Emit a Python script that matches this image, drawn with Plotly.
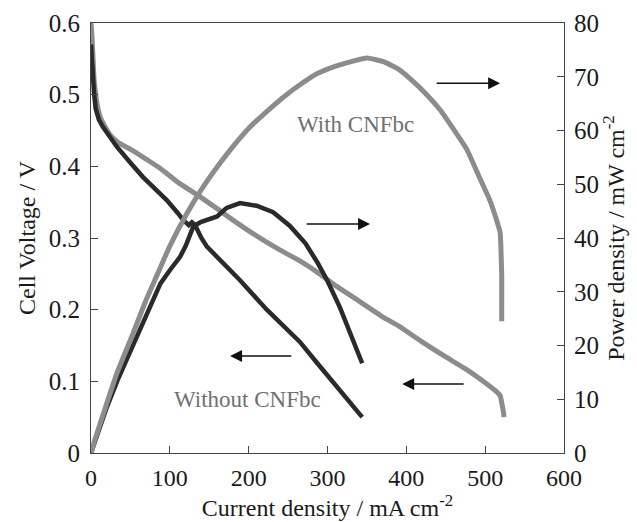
import plotly.graph_objects as go

# With CNFbc - cell voltage
with_v_i = [0, 1, 2, 3, 4, 6, 8, 12, 18, 25, 35, 53, 70, 88, 110, 139, 160, 180, 210, 240,
            265, 290, 307, 340, 370, 392, 420, 450, 477, 500, 515, 519, 521, 523, 524]
with_v = [0.600, 0.585, 0.565, 0.54, 0.52, 0.50, 0.485, 0.468, 0.455, 0.443, 0.433, 0.422,
          0.41, 0.397, 0.378, 0.357, 0.341, 0.325, 0.303, 0.283, 0.268, 0.25, 0.236, 0.212,
          0.19, 0.176, 0.155, 0.134, 0.116, 0.098, 0.085, 0.08, 0.07, 0.058, 0.05]

# With CNFbc - power density
with_p_i = [0, 5, 15, 33, 53.5, 70, 83.5, 100, 121.8, 140, 160, 180, 202, 225, 244, 265, 287,
            307, 330, 350, 371, 390, 405, 425, 443, 460, 477, 492, 506, 513, 519, 520, 521, 521, 521]
with_p = [0, 2.5, 7, 14.9, 22.3, 28.5, 33, 38.5, 44.6, 49, 53.2, 57, 60.7, 63.8, 66.2, 68.5,
          70.6, 71.8, 72.8, 73.5, 72.8, 71.4, 69.6, 66.8, 63.8, 60.2, 56.4, 51.5, 47, 44, 41,
          38, 33, 28, 24.5]

# Without CNFbc - cell voltage
wo_v_i = [0, 2, 4, 6, 10, 15, 25, 33, 50, 66, 80, 96, 110, 117, 124, 128, 132, 140, 147, 164,
          189, 223, 265, 285, 307, 325, 344]
wo_v = [0.57, 0.53, 0.50, 0.48, 0.465, 0.455, 0.44, 0.427, 0.405, 0.385, 0.37, 0.353, 0.335,
        0.325, 0.318, 0.322, 0.318, 0.30, 0.288, 0.269, 0.241, 0.20, 0.155, 0.128, 0.098, 0.075, 0.05]

# Without CNFbc - power density
wo_p_i = [0, 10, 20, 35, 50, 60, 75, 88, 100, 113, 120, 125, 130, 140, 160, 172, 189, 210, 231,
          252, 272, 287, 300, 316, 330, 344]
wo_p = [0, 4.5, 8.5, 14, 19, 22.5, 27.5, 31.5, 34, 36.5, 38.5, 40.5, 42.2, 43, 44, 45.6, 46.5,
        46, 44.8, 42.3, 39, 35.5, 32, 27, 22, 16.7]

x_ticks = [0, 100, 200, 300, 400, 500, 600]
v_ticks = [0, 0.1, 0.2, 0.3, 0.4, 0.5, 0.6]
p_ticks = [0, 10, 20, 30, 40, 50, 60, 70, 80]

GRAY = "#8c8c8c"
DARK = "#2a2a2a"
AXC = "#444444"
FONT = "Liberation Serif"

fig = go.Figure()
fig.add_trace(go.Scatter(x=with_v_i, y=with_v, mode="lines",
                         line=dict(color=GRAY, width=5, shape="spline", smoothing=0.5),
                         name="With CNFbc voltage", yaxis="y"))
fig.add_trace(go.Scatter(x=wo_v_i, y=wo_v, mode="lines", line=dict(color=DARK, width=4.5),
                         name="Without CNFbc voltage", yaxis="y"))
fig.add_trace(go.Scatter(x=wo_p_i, y=wo_p, mode="lines", line=dict(color=DARK, width=4.5),
                         name="Without CNFbc power", yaxis="y2"))
fig.add_trace(go.Scatter(x=with_p_i, y=with_p, mode="lines",
                         line=dict(color=GRAY, width=5, shape="spline", smoothing=0.5),
                         name="With CNFbc power", yaxis="y2"))

# arrows (head at x,y ; tail at ax,ay)
arrows = [
    (519, 0.516, 436.5),
    (354, 0.3195, 271.6),
    (176.4, 0.1353, 256),
    (394.7, 0.0963, 474.6),
]
for hx, hy, tx in arrows:
    fig.add_annotation(x=hx, y=hy, ax=tx, ay=hy, xref="x", yref="y", axref="x", ayref="y",
                       text="", showarrow=True, arrowhead=2, arrowsize=1.6, arrowwidth=1.5,
                       arrowcolor="#111111", standoff=0, startstandoff=0)

fig.add_annotation(x=335, y=0.459, xref="x", yref="y", text="With CNFbc", showarrow=False,
                   font=dict(family=FONT, size=23, color="#707070"))
fig.add_annotation(x=199, y=0.074, xref="x", yref="y", text="Without CNFbc", showarrow=False,
                   font=dict(family=FONT, size=23, color="#707070"))

fig.update_layout(
    width=637, height=522,
    margin=dict(l=91, r=73, t=23, b=69, autoexpand=False),
    paper_bgcolor="white", plot_bgcolor="white",
    showlegend=False,
    font=dict(family=FONT, size=25, color="#1a1a1a"),
    xaxis=dict(range=[0, 600], tickvals=x_ticks, ticks="inside", ticklen=7, tickcolor=AXC,
               showline=True, linecolor=AXC, linewidth=1, mirror=True, showgrid=False,
               zeroline=False, ticklabelstandoff=3, tickfont=dict(size=24), automargin=False,
               title=dict(text="Current density / mA cm<sup>-2</sup>", standoff=2,
                          font=dict(family=FONT, size=24))),
    yaxis=dict(range=[0, 0.6], tickvals=v_ticks, ticks="inside", ticklen=7, tickcolor=AXC,
               showline=True, linecolor=AXC, linewidth=1, showgrid=False, zeroline=False,
               ticklabelstandoff=5, tickfont=dict(size=25), automargin=False,
               title=dict(text="Cell Voltage / V", standoff=6, font=dict(family=FONT, size=24))),
    yaxis2=dict(range=[0, 80], tickvals=p_ticks, ticks="inside", ticklen=7, tickcolor=AXC,
                overlaying="y", side="right", showline=True, linecolor=AXC, linewidth=1,
                showgrid=False, zeroline=False, ticklabelstandoff=4, tickfont=dict(size=25),
                automargin=False,
                title=dict(text="Power density / mW cm<sup>-2</sup>", standoff=6,
                           font=dict(family=FONT, size=24))),
)

fig.write_html("out.html", config={"displayModeBar": False},
               post_script="document.body.style.margin='0';document.body.style.padding='0';")
